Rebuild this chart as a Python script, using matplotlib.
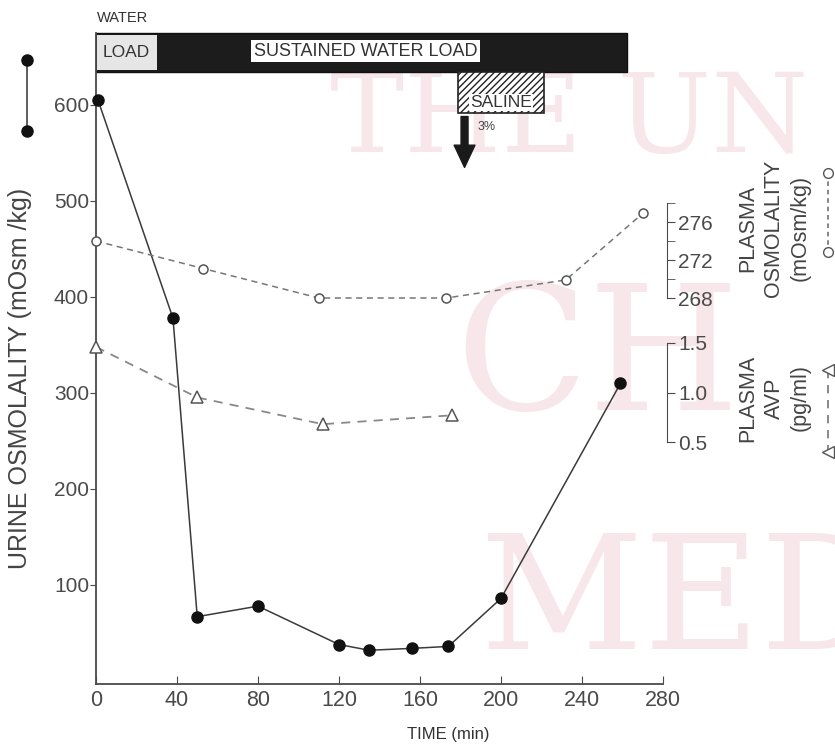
import matplotlib
matplotlib.use('Agg')
import matplotlib.pyplot as plt
from matplotlib.patches import Rectangle

plt.rcParams['font.family'] = ['Liberation Sans', 'DejaVu Sans']

# datos
t_urine = [1, 38, 50, 80, 120, 135, 156, 174, 200, 259]
urine_osm = [605, 378, 67, 78, 38, 32, 34, 36, 86, 310]

t_posm = [0, 53, 110, 173, 232, 270]
plasma_osm = [274.0, 271.1, 268.0, 268.0, 269.9, 276.9]

t_avp = [0, 50, 112, 176]
plasma_avp = [1.46, 0.95, 0.68, 0.77]

x_ticks = [0, 40, 80, 120, 160, 200, 240, 280]
y_ticks = [100, 200, 300, 400, 500, 600]
osm_major = [268, 272, 276]
osm_minor = [270, 274, 278]
avp_ticks = [0.5, 1.0, 1.5]

gris = '#4a4a4a'
W, H = 835, 750
top_px, bot_px = 33, 684   # borde superior e inferior de los ejes en pixeles


def px(x, y):
    # pixel -> fraccion de figura
    return x / W, 1 - y / H


def lims(v_ref, px_ref, px_por_unidad):
    # limites de un eje para que v_ref caiga en px_ref
    return (v_ref - (bot_px - px_ref) / px_por_unidad, v_ref + (px_ref - top_px) / px_por_unidad)


fig = plt.figure(figsize=(W / 100, H / 100), dpi=100)

# marca de agua rosada (fondo)
for s, (x, y), fs in [('THE UN', (330, 122), 80), ('CH', (455, 362), 125), ('MEDI', (480, 605), 115)]:
    fig.text(*px(x, y), s, fontsize=fs, color='#f8e7ea', family='DejaVu Serif',
             ha='left', va='center', zorder=-5)

ax = fig.add_axes([96 / W, 1 - bot_px / H, (663 - 96) / W, (bot_px - top_px) / H])
ax.patch.set_alpha(0)
ax.set_xlim(0, 280)
ax.set_ylim(*lims(600, 105, 0.96))
for s in ['top', 'right']:
    ax.spines[s].set_visible(False)
for s in ['left', 'bottom']:
    ax.spines[s].set_color(gris)
    ax.spines[s].set_linewidth(1.3)

ax.set_xticks(x_ticks)
ax.set_yticks(y_ticks)
ax.tick_params(axis='x', direction='in', length=6, colors=gris, labelsize=15.5, pad=4)
ax.tick_params(axis='y', direction='out', length=4, colors=gris, labelsize=15, pad=1)

ax.plot(t_urine, urine_osm, '-', color='#3a3a3a', lw=1.1, marker='o', ms=8,
        mfc='#111', mec='#111', zorder=5, clip_on=False)

# barra de carga de agua
ax.add_patch(Rectangle((0, 634), 262, 41, fc='#1c1c1c', ec='#111', lw=1, clip_on=False))
ax.add_patch(Rectangle((0.6, 636), 29.5, 37, fc='#e6e6e6', ec='none', clip_on=False))
ax.text(15, 655, 'LOAD', ha='center', va='center', fontsize=12.5, color='#333', clip_on=False)
ax.text(133, 656, 'SUSTAINED WATER LOAD', ha='center', va='center', fontsize=13, color='#333',
        bbox=dict(fc='white', ec='none', pad=2), clip_on=False)
ax.add_patch(Rectangle((179, 592), 42, 42, fc='white', ec='#222', lw=1.2, hatch='/////', clip_on=False))
ax.text(200, 602.5, 'SALINE', ha='center', va='center', fontsize=12.5, color='#333',
        bbox=dict(fc='white', ec='none', pad=1), clip_on=False)
ax.text(188.5, 577, '3%', ha='left', va='center', fontsize=9, color='#444')
ax.annotate('', xy=(182, 535), xytext=(182, 588),
            arrowprops=dict(width=5, headwidth=15, headlength=16, color='#1a1a1a', shrink=0))

# osmolalidad plasmatica
ax2 = ax.twinx()
ax2.set_ylim(*lims(268, 298, 9.5))
for s in ['top', 'left', 'bottom']:
    ax2.spines[s].set_visible(False)
ax2.spines['right'].set_position(('axes', 1.007))
ax2.spines['right'].set_bounds(268, 278)
ax2.spines['right'].set_color(gris)
ax2.set_yticks(osm_major)
ax2.set_yticks(osm_minor, minor=True)
ax2.tick_params(axis='y', which='both', direction='out', length=6, colors=gris, labelsize=15, pad=2)
ax2.plot(t_posm, plasma_osm, '--', color='#777', lw=1.1, dashes=(4, 3), marker='o', ms=6.5,
         mfc='white', mec='#555', mew=1.1, clip_on=False)

# AVP plasmatica
ax3 = ax.twinx()
ax3.set_ylim(*lims(1.5, 343, 99))
for s in ['top', 'left', 'bottom']:
    ax3.spines[s].set_visible(False)
ax3.spines['right'].set_position(('axes', 1.007))
ax3.spines['right'].set_bounds(0.5, 1.5)
ax3.spines['right'].set_color(gris)
ax3.set_yticks(avp_ticks)
ax3.set_yticklabels(['0.5', '1.0', '1.5'])
ax3.tick_params(axis='y', direction='out', length=6, colors=gris, labelsize=15, pad=2)
ax3.plot(t_avp, plasma_avp, '--', color='#888', lw=1.3, dashes=(5, 4), marker='^', ms=9,
         mfc='white', mec='#555', mew=1.1, clip_on=False)

# textos
fig.text(*px(448, 735), 'TIME (min)', ha='center', va='center', fontsize=12, color='#333')
fig.text(*px(20, 378), 'URINE OSMOLALITY (mOsm /kg)', rotation=90, ha='center', va='center',
         fontsize=18, color='#444')
fig.text(*px(123, 18), 'WATER', ha='center', va='center', fontsize=10.5, color='#333')

# leyenda izquierda
fig.add_artist(plt.Line2D([27 / W, 27 / W], [1 - 60 / H, 1 - 131 / H], color='#333', lw=1.1,
                          marker='o', ms=8, mfc='#111', mec='#111'))

fig.text(*px(774, 228), 'PLASMA\nOSMOLALITY\n(mOsm/kg)', rotation=90, ha='center', va='center',
         multialignment='center', fontsize=15.5, color='#444', linespacing=1.3)
fig.text(*px(774, 398), 'PLASMA\nAVP\n(pg/ml)', rotation=90, ha='center', va='center',
         multialignment='center', fontsize=15.5, color='#444', linespacing=1.3)

# leyendas derecha
fig.add_artist(plt.Line2D([828 / W, 828 / W], [1 - 173 / H, 1 - 252 / H], color='#666', lw=1.1,
                          dashes=(3, 2.5), marker='o', ms=7, mfc='white', mec='#555'))
fig.add_artist(plt.Line2D([828 / W, 828 / W], [1 - 370 / H, 1 - 452 / H], color='#777', lw=1.2,
                          dashes=(5, 4), marker='<', ms=9, mfc='white', mec='#555'))

fig.savefig('out.png', dpi=100)
